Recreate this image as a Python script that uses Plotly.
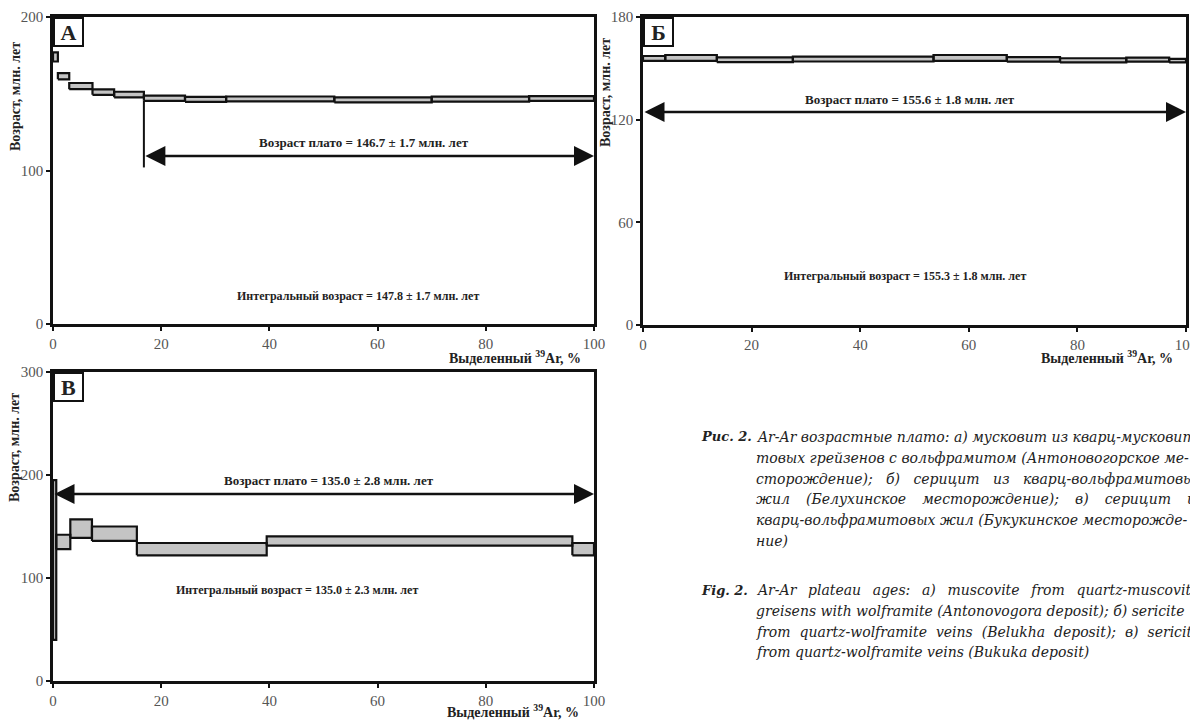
import plotly.graph_objects as go

# ---------------- data ----------------
# Panel A (Antonovogora) : cumulative 39Ar release boundaries (%), step ages and 1-sigma errors (Ma)
a_edges = [0, 0.9, 3.0, 7.3, 11.3, 16.8, 24.4, 32.0, 52.0, 70.0, 88.0, 100]
a_age = [174.0, 161.4, 155.0, 151.1, 149.5, 147.1, 146.3, 146.6, 146.0, 146.5, 146.9]
a_err = [3.0, 2.0, 2.0, 1.8, 1.8, 1.7, 1.6, 1.6, 1.6, 1.6, 1.6]
a_plateau_start = 5
a_plateau_text = "Возраст плато = 146.7 ± 1.7 млн. лет"
a_integral_text = "Интегральный возраст = 147.8 ± 1.7 млн. лет"

# Panel B (Belukha)
b_edges = [0, 4.1, 13.6, 27.6, 53.5, 67.0, 76.8, 89.0, 96.9, 100]
b_age = [155.8, 156.1, 155.0, 155.4, 156.1, 155.2, 154.7, 155.1, 154.5]
b_err = [1.4, 1.7, 1.4, 1.4, 1.7, 1.3, 1.2, 1.2, 1.0]
b_plateau_start = 0
b_plateau_text = "Возраст плато = 155.6 ± 1.8 млн. лет"
b_integral_text = "Интегральный возраст = 155.3 ± 1.8 млн. лет"

# Panel C (Bukuka)
c_edges = [0, 0.6, 3.2, 7.2, 15.5, 39.5, 96.0, 100]
c_age = [117.5, 135.0, 148.0, 143.0, 128.0, 136.0, 128.0]
c_err = [77.5, 7.0, 9.0, 7.0, 6.0, 4.5, 6.0]
c_plateau_start = 0
c_plateau_text = "Возраст плато = 135.0 ± 2.8 млн. лет"
c_integral_text = "Интегральный возраст = 135.0 ± 2.3 млн. лет"

x_ticks = [0, 20, 40, 60, 80, 100]
a_yticks = [0, 100, 200]
b_yticks = [0, 60, 120, 180]
c_yticks = [0, 100, 200, 300]

y_title = "Возраст, млн. лет"
x_title = "Выделенный <sup>39</sup>Ar, %"

caption_ru_label = "Рис. 2."
caption_ru = [
    "Ar-Ar возрастные плато: а) мусковит из кварц-мусковит-",
    "товых грейзенов с вольфрамитом (Антоновогорское ме-",
    "сторождение); б) серицит из кварц-вольфрамитовых",
    "жил (Белухинское месторождение); в) серицит из",
    "кварц-вольфрамитовых жил (Букукинское месторожде-",
    "ние)",
]
caption_en_label = "Fig. 2."
caption_en = [
    "Ar-Ar plateau ages: a) muscovite from quartz-muscovite",
    "greisens with wolframite (Antonovogora deposit); б) sericite",
    "from quartz-wolframite veins (Belukha deposit); в) sericite",
    "from quartz-wolframite veins (Bukuka deposit)",
]

# ---------------- figure ----------------
OFF = 8                     # page body margin
W, H = 1198 - OFF, 720 - OFF
fig = go.Figure()

NB, TH = "\u00a0", "\u2009"
caption_ru_gap = ["", "", NB * 2, NB * 2 + TH, "", ""]   # extra word spacing (justified lines)
caption_en_gap = [NB + TH, "", NB, ""]


def px_x(p):
    return (p - OFF) / W


def px_y(p):
    return 1 - (p - OFF) / H


panels = [
    dict(name="А", xa="x", ya="y", edges=a_edges, age=a_age, err=a_err, ps=a_plateau_start,
         dom_x=(53, 594), dom_y=(17, 324), yr=200, yt=a_yticks,
         arrow_y=109.5, plat_txt=a_plateau_text, plat_pos=(57.5, 118.5),
         int_txt=a_integral_text, int_pos=(33.6, 18.3), int_anchor="left", vline_to=102.0,
         ytitle_pos=(15, 97), xtitle=(583, 357)),
    dict(name="Б", xa="x2", ya="y2", edges=b_edges, age=b_age, err=b_err, ps=b_plateau_start,
         dom_x=(643, 1186), dom_y=(17, 325), yr=180, yt=b_yticks,
         arrow_y=124.5, plat_txt=b_plateau_text, plat_pos=(49.2, 132.0),
         int_txt=b_integral_text, int_pos=(48.3, 28.6), int_anchor="center", vline_to=None,
         ytitle_pos=(606, 93), xtitle=(1175, 357)),
    dict(name="В", xa="x3", ya="y3", edges=c_edges, age=c_age, err=c_err, ps=c_plateau_start,
         dom_x=(53, 594), dom_y=(372, 681), yr=300, yt=c_yticks,
         arrow_y=181.5, plat_txt=c_plateau_text, plat_pos=(51.0, 195.0),
         int_txt=c_integral_text, int_pos=(45.1, 88.3), int_anchor="center", vline_to=None,
         ytitle_pos=(15, 448), xtitle=(581, 711)),
]

tick_font = dict(family="Liberation Serif", size=15, color="#555555")
bold_font = dict(family="Liberation Serif", size=13, color="#222222", weight="bold")
title_font = dict(family="Liberation Serif", size=14, color="#222222", weight="bold")

annotations = []
for i, p in enumerate(panels):
    # step boxes built from data
    xs, ys = [], []
    for k in range(len(p["age"])):
        x0, x1 = p["edges"][k], p["edges"][k + 1]
        lo, hi = p["age"][k] - p["err"][k], p["age"][k] + p["err"][k]
        xs += [x0, x1, x1, x0, x0, None]
        ys += [lo, lo, hi, hi, lo, None]
    fig.add_trace(go.Scatter(x=xs, y=ys, mode="lines", fill="toself",
                             fillcolor="#c4c4c4", line=dict(color="#111111", width=2.2),
                             xaxis=p["xa"], yaxis=p["ya"], hoverinfo="skip"))
    ps = p["ps"]
    if p["vline_to"] is not None:
        fig.add_trace(go.Scatter(x=[p["edges"][ps], p["edges"][ps]],
                                 y=[p["age"][ps] - p["err"][ps], p["vline_to"]],
                                 mode="lines", line=dict(color="#111111", width=2),
                                 xaxis=p["xa"], yaxis=p["ya"], hoverinfo="skip"))
    # plateau double arrow
    annotations.append(dict(x=p["edges"][-1], y=p["arrow_y"], ax=p["edges"][ps], ay=p["arrow_y"],
                            xref=p["xa"], yref=p["ya"], axref=p["xa"], ayref=p["ya"],
                            text="", showarrow=True, arrowhead=2, arrowside="end+start",
                            arrowsize=1.6, arrowwidth=2.5, arrowcolor="#111111", standoff=0,
                            startstandoff=0))
    annotations.append(dict(x=p["plat_pos"][0], y=p["plat_pos"][1], xref=p["xa"], yref=p["ya"],
                            text=p["plat_txt"], showarrow=False, font=bold_font,
                            xanchor="center", yanchor="middle"))
    annotations.append(dict(x=p["int_pos"][0], y=p["int_pos"][1], xref=p["xa"], yref=p["ya"],
                            text=p["int_txt"], showarrow=False,
                            font=dict(family="Liberation Serif", size=12, color="#222222", weight="bold"),
                            xanchor=p["int_anchor"], yanchor="middle"))
    # panel letter box
    annotations.append(dict(x=px_x(p["dom_x"][0]), y=px_y(p["dom_y"][0]), xref="paper", yref="paper",
                            text=p["name"], showarrow=False, xanchor="left", yanchor="top",
                            width=27, height=26, bordercolor="#111111", borderwidth=2,
                            bgcolor="white", borderpad=0,
                            font=dict(family="Liberation Serif", size=22, color="#222222", weight="bold")))
    # axis titles
    annotations.append(dict(x=px_x(p["ytitle_pos"][0]), y=px_y(p["ytitle_pos"][1]),
                            xref="paper", yref="paper", text=y_title, textangle=-90,
                            showarrow=False, font=title_font, xanchor="center", yanchor="middle"))
    annotations.append(dict(x=px_x(p["xtitle"][0]), y=px_y(p["xtitle"][1]),
                            xref="paper", yref="paper", text=x_title,
                            showarrow=False, font=title_font, xanchor="right", yanchor="middle"))

    ax_common = dict(showline=True, linecolor="#111111", linewidth=2.5, mirror=True,
                     ticks="outside", ticklen=4, tickwidth=2, tickcolor="#111111",
                     showgrid=False, zeroline=False, tickfont=tick_font)
    sfx = "" if i == 0 else str(i + 1)
    fig.update_layout(**{
        "xaxis" + sfx: dict(domain=[px_x(p["dom_x"][0]), px_x(p["dom_x"][1])], range=[0, 100],
                            tickvals=x_ticks, anchor=p["ya"], **ax_common),
        "yaxis" + sfx: dict(domain=[px_y(p["dom_y"][1]), px_y(p["dom_y"][0])], range=[0, p["yr"]],
                            tickvals=p["yt"], anchor=p["xa"], **ax_common),
    })


def spaced(line, extra):
    return (" " + extra).join(line.split(" ")) if extra else line


cap_font = dict(family="DejaVu Serif", size=14, color="#222222", style="italic")
cap_bold = dict(family="DejaVu Serif", size=13, color="#222222", style="italic", weight="bold")
for blk_label, blk_lines, gaps, y0 in [(caption_ru_label, caption_ru, caption_ru_gap, 437),
                                       (caption_en_label, caption_en, caption_en_gap, 590)]:
    annotations.append(dict(x=px_x(699), y=px_y(y0), xref="paper", yref="paper", text=blk_label,
                            showarrow=False, font=cap_bold, xanchor="left", yanchor="middle"))
    for j, line in enumerate(blk_lines):
        annotations.append(dict(x=px_x(754), y=px_y(y0 + 20.8 * j), xref="paper", yref="paper",
                                text=spaced(line, gaps[j]), showarrow=False, font=cap_font,
                                xanchor="left", yanchor="middle"))

fig.update_layout(width=W, height=H, margin=dict(l=0, r=0, t=0, b=0, autoexpand=False),
                  plot_bgcolor="white", paper_bgcolor="white", showlegend=False,
                  annotations=annotations)

fig.write_html("out.html")
